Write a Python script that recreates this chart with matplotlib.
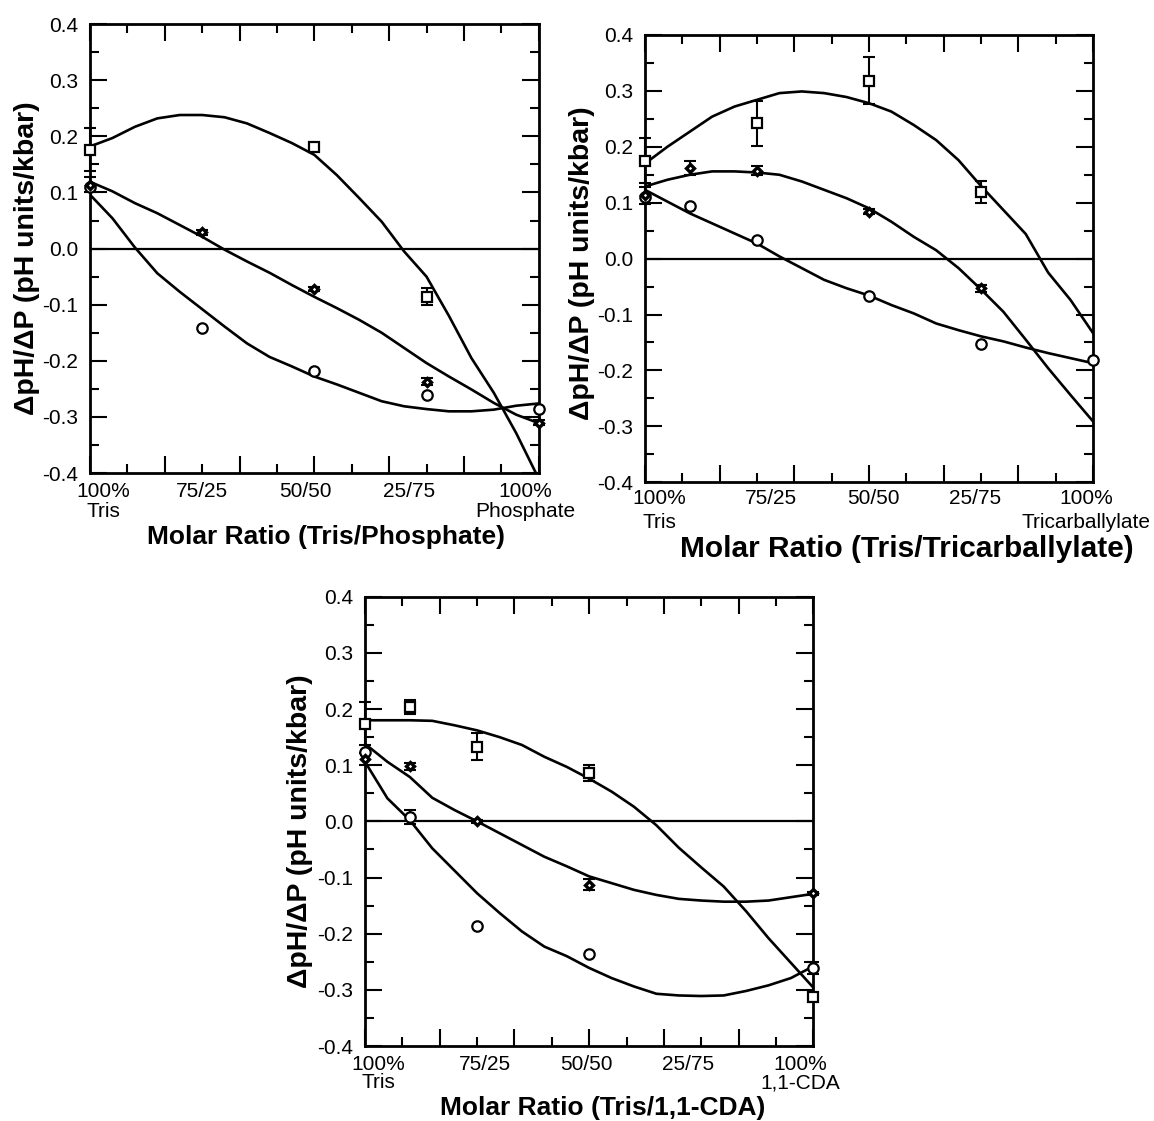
import numpy as np
import matplotlib.pyplot as plt
from matplotlib.ticker import FixedLocator

plt.rcParams['font.family'] = ['Liberation Sans', 'DejaVu Sans']

# eje x: fraccion del segundo tampon (0 = 100% Tris, 1 = 100% segundo)
fit_x = [0.00, 0.05, 0.10, 0.15, 0.20, 0.25, 0.30, 0.35, 0.40, 0.45, 0.50,
         0.55, 0.60, 0.65, 0.70, 0.75, 0.80, 0.85, 0.90, 0.95, 1.00]

y_ticks = [-0.4, -0.3, -0.2, -0.1, 0.0, 0.1, 0.2, 0.3, 0.4]
y_labels = ['-0.4', '-0.3', '-0.2', '-0.1', '0.0', '0.1', '0.2', '0.3', '0.4']
ratio_top = ['100%', '75/25', '50/50', '25/75', '100%']

# --- Tris / Phosphate ---
pho_sq_x = [0.0, 0.5, 0.75]
pho_sq_y = [0.176, 0.181, -0.086]
pho_sq_e = [0.038, 0.004, 0.015]
pho_dm_x = [0.0, 0.25, 0.5, 0.75, 1.0]
pho_dm_y = [0.114, 0.029, -0.072, -0.237, -0.310]
pho_dm_e = [0.014, 0.004, 0.004, 0.006, 0.005]
pho_ci_x = [0.0, 0.25, 0.5, 0.75, 1.0]
pho_ci_y = [0.110, -0.142, -0.218, -0.261, -0.285]
pho_ci_e = [0.0, 0.0, 0.0, 0.0, 0.0]
pho_sq_fit = [0.182, 0.197, 0.217, 0.232, 0.238, 0.238, 0.234, 0.223, 0.206, 0.188, 0.167,
              0.131, 0.090, 0.048, -0.005, -0.050, -0.120, -0.195, -0.257, -0.329, -0.410]
pho_dm_fit = [0.119, 0.102, 0.081, 0.063, 0.042, 0.021, -0.002, -0.023, -0.043, -0.065, -0.086,
              -0.106, -0.127, -0.150, -0.177, -0.204, -0.228, -0.251, -0.275, -0.296, -0.311]
pho_ci_fit = [0.096, 0.054, 0.002, -0.044, -0.077, -0.108, -0.139, -0.169, -0.193, -0.210, -0.228,
              -0.242, -0.257, -0.272, -0.281, -0.286, -0.290, -0.290, -0.287, -0.280, -0.276]

# --- Tris / Tricarballylate ---
tca_sq_x = [0.0, 0.25, 0.5, 0.75]
tca_sq_y = [0.175, 0.242, 0.318, 0.119]
tca_sq_e = [0.040, 0.040, 0.042, 0.020]
tca_dm_x = [0.0, 0.1, 0.25, 0.5, 0.75]
tca_dm_y = [0.113, 0.162, 0.157, 0.084, -0.053]
tca_dm_e = [0.015, 0.012, 0.008, 0.004, 0.006]
tca_ci_x = [0.0, 0.1, 0.25, 0.5, 0.75, 1.0]
tca_ci_y = [0.110, 0.094, 0.033, -0.067, -0.153, -0.182]
tca_ci_e = [0.0, 0.0, 0.0, 0.0, 0.0, 0.0]
tca_sq_fit = [0.170, 0.200, 0.227, 0.254, 0.272, 0.284, 0.296, 0.299, 0.296, 0.289, 0.278,
              0.263, 0.239, 0.212, 0.176, 0.130, 0.087, 0.044, -0.025, -0.074, -0.133]
tca_dm_fit = [0.129, 0.141, 0.150, 0.156, 0.156, 0.154, 0.150, 0.138, 0.123, 0.108, 0.090,
              0.066, 0.039, 0.015, -0.017, -0.055, -0.095, -0.145, -0.196, -0.244, -0.291]
tca_ci_fit = [0.123, 0.102, 0.081, 0.063, 0.045, 0.027, 0.004, -0.017, -0.038, -0.053, -0.066,
              -0.083, -0.098, -0.116, -0.128, -0.139, -0.148, -0.159, -0.169, -0.178, -0.187]

# --- Tris / 1,1-CDA ---
cda_sq_x = [0.0, 0.1, 0.25, 0.5, 1.0]
cda_sq_y = [0.174, 0.204, 0.133, 0.086, -0.312]
cda_sq_e = [0.038, 0.012, 0.024, 0.015, 0.005]
cda_dm_x = [0.0, 0.1, 0.25, 0.5, 1.0]
cda_dm_y = [0.111, 0.098, 0.000, -0.113, -0.128]
cda_dm_e = [0.010, 0.006, 0.003, 0.010, 0.003]
cda_ci_x = [0.0, 0.1, 0.25, 0.5, 1.0]
cda_ci_y = [0.124, 0.008, -0.186, -0.237, -0.261]
cda_ci_e = [0.0, 0.012, 0.0, 0.0, 0.010]
cda_sq_fit = [0.180, 0.180, 0.180, 0.179, 0.171, 0.162, 0.150, 0.136, 0.115, 0.097, 0.076,
              0.053, 0.026, -0.007, -0.047, -0.082, -0.116, -0.160, -0.208, -0.252, -0.296]
cda_dm_fit = [0.138, 0.106, 0.079, 0.042, 0.020, 0.000, -0.021, -0.042, -0.063, -0.080, -0.098,
              -0.110, -0.122, -0.131, -0.138, -0.141, -0.143, -0.143, -0.141, -0.135, -0.129]
cda_ci_fit = [0.106, 0.041, 0.002, -0.048, -0.088, -0.128, -0.163, -0.196, -0.223, -0.240, -0.261,
              -0.279, -0.294, -0.307, -0.310, -0.311, -0.310, -0.302, -0.292, -0.279, -0.258]


def dibujar_serie(ax, x, y, e, marker, ms, mew):
    """Barras de error (solo las visibles) y marcadores abiertos."""
    x = np.array(x); y = np.array(y); e = np.array(e)
    m = e > 0
    if m.any():
        ax.errorbar(x[m], y[m], yerr=e[m], fmt='none', ecolor='black', elinewidth=1.5,
                    capsize=4, capthick=1.5, zorder=3, clip_on=False)
    ax.plot(x, y, ls='none', marker=marker, ms=ms, mfc='white', mec='black',
            mew=mew, zorder=4, clip_on=False)


def dibujar_panel(fig, rect, segundo, sq, dm, ci, fits, lay):
    ax = fig.add_axes(rect)
    ax.axhline(0, color='black', lw=1.6, zorder=1)
    for f in fits:
        ax.plot(fit_x, f, color='black', lw=1.9, zorder=2, solid_joinstyle='round')
    dibujar_serie(ax, *sq, marker='s', ms=7.5, mew=1.6)
    dibujar_serie(ax, *ci, marker='o', ms=7.5, mew=1.6)
    dibujar_serie(ax, *dm, marker='D', ms=4.5, mew=2.4)

    ax.set_xlim(0, 1)
    ax.set_ylim(-0.4, 0.4)
    ax.xaxis.set_major_locator(FixedLocator(np.arange(0, 13, 2) / 12))
    ax.xaxis.set_minor_locator(FixedLocator(np.arange(1, 12, 2) / 12))
    ax.yaxis.set_major_locator(FixedLocator(y_ticks))
    ax.yaxis.set_minor_locator(FixedLocator(np.arange(-0.35, 0.4, 0.1)))
    ax.set_yticklabels(y_labels)
    ax.tick_params(which='major', direction='in', length=12.5, width=1.5,
                   top=True, right=True, labelsize=15, pad=8.5)
    ax.tick_params(which='minor', direction='in', length=6.5, width=1.5,
                   top=True, right=True)
    ax.tick_params(axis='x', labelbottom=False)
    for s in ax.spines.values():
        s.set_linewidth(2)

    ratio_bottom = ['Tris', '', '', '', segundo]
    for pos, top, bot in zip(lay['pos'], ratio_top, ratio_bottom):
        ax.annotate(top, (pos, 0), xycoords=('data', 'axes fraction'),
                    xytext=(0, -lay['r1']), textcoords='offset pixels',
                    ha='center', va='top', fontsize=15)
        if bot:
            ax.annotate(bot, (pos, 0), xycoords=('data', 'axes fraction'),
                        xytext=(0, -lay['r2']), textcoords='offset pixels',
                        ha='center', va='top', fontsize=15)
    ax.annotate(f'Molar Ratio (Tris/{segundo})', (lay['tx'], 0), xycoords='axes fraction',
                xytext=(0, -lay['r3']), textcoords='offset pixels',
                ha='center', va='top', fontsize=lay['fs'], fontweight='bold')
    ax.set_ylabel('ΔpH/ΔP (pH units/kbar)', fontsize=20.5, fontweight='bold')
    ax.yaxis.set_label_coords(lay['yx'], lay['yy'])
    return ax


fig = plt.figure(figsize=(11.54, 11.21), dpi=100)

dibujar_panel(fig, [0.0780, 0.5780, 0.3888, 0.4005], 'Phosphate',
              (pho_sq_x, pho_sq_y, pho_sq_e), (pho_dm_x, pho_dm_y, pho_dm_e),
              (pho_ci_x, pho_ci_y, pho_ci_e), (pho_sq_fit, pho_dm_fit, pho_ci_fit),
              dict(pos=[0.03, 0.25, 0.48, 0.71, 0.97], r1=9, r2=29, r3=52, tx=0.526,
                   fs=19, yx=-0.111, yy=0.479))

dibujar_panel(fig, [0.5589, 0.5698, 0.3882, 0.3990], 'Tricarballylate',
              (tca_sq_x, tca_sq_y, tca_sq_e), (tca_dm_x, tca_dm_y, tca_dm_e),
              (tca_ci_x, tca_ci_y, tca_ci_e), (tca_sq_fit, tca_dm_fit, tca_ci_fit),
              dict(pos=[0.032, 0.282, 0.511, 0.737, 0.985], r1=7, r2=31, r3=53, tx=0.585,
                   fs=21.5, yx=-0.112, yy=0.49))

dibujar_panel(fig, [0.3163, 0.0669, 0.3885, 0.4008], '1,1-CDA',
              (cda_sq_x, cda_sq_y, cda_sq_e), (cda_dm_x, cda_dm_y, cda_dm_e),
              (cda_ci_x, cda_ci_y, cda_ci_e), (cda_sq_fit, cda_dm_fit, cda_ci_fit),
              dict(pos=[0.03, 0.268, 0.493, 0.72, 0.97], r1=9, r2=27, r3=50, tx=0.53,
                   fs=19, yx=-0.116, yy=0.479))

fig.savefig('out.png', dpi=100)
